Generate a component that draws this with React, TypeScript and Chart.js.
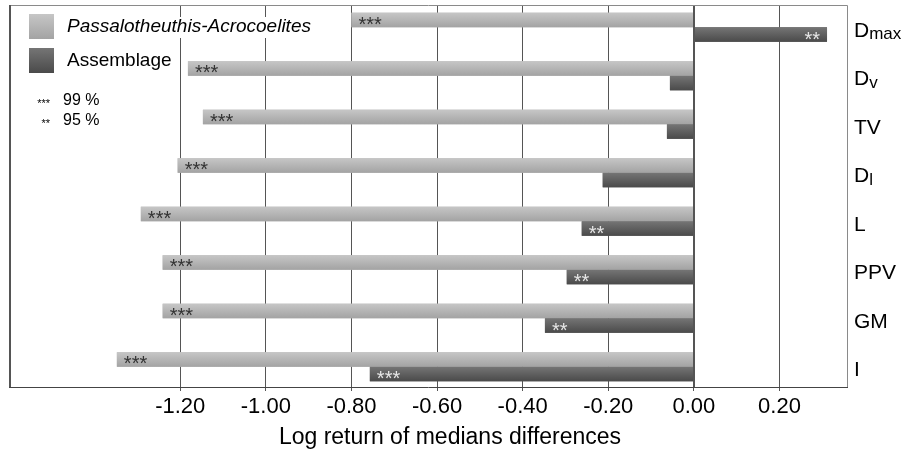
import React, { useEffect, useRef } from 'react';
import { Chart, registerables } from 'chart.js';

Chart.register(...registerables);

const categories = ['Dmax', 'Dv', 'TV', 'Dl', 'L', 'PPV', 'GM', 'I'];
const labelMain = ['D', 'D', 'TV', 'D', 'L', 'PPV', 'GM', 'I'];
const labelSub = ['max', 'v', '', 'l', '', '', '', ''];
const seriesNames = ['Passalotheuthis-Acrocoelites', 'Assemblage'];
const passaloValues = [-0.8, -1.182, -1.147, -1.206, -1.292, -1.241, -1.241, -1.348];
const assemblageValues = [0.311, -0.056, -0.063, -0.213, -0.262, -0.297, -0.348, -0.757];
const passaloStars = ['***', '***', '***', '***', '***', '***', '***', '***'];
const assemblageStars = ['**', '', '', '', '**', '**', '**', '***'];
const tickValues = [-1.2, -1.0, -0.8, -0.6, -0.4, -0.2, 0, 0.2];
const significanceStars = ['***', '**'];
const significanceLabels = ['99 %', '95 %'];
const axisTitle = 'Log return of medians differences';

const FONT = "'Liberation Sans', Arial, sans-serif";
const GRADS = [
  ['#c6c6c6', '#a3a3a3'],
  ['#757575', '#4a4a4a'],
];
const FRAME_TOP = 5;
const FRAME_BOTTOM = 387;

const customPlugin = {
  id: 'customDraw',
  afterDatasetsDraw(chart: any) {
    const ctx = chart.ctx;
    const xScale = chart.scales.x;
    ctx.save();
    chart.data.datasets.forEach((ds: any, di: number) => {
      const meta = chart.getDatasetMeta(di);
      meta.data.forEach((bar: any, i: number) => {
        const { x, y, base, height } = bar.getProps(['x', 'y', 'base', 'height'], true);
        const top = y - height / 2;
        const g = ctx.createLinearGradient(0, top, 0, top + height);
        g.addColorStop(0, GRADS[di][0]);
        g.addColorStop(1, GRADS[di][1]);
        ctx.fillStyle = g;
        const left = Math.min(x, base);
        const w = Math.abs(x - base);
        ctx.fillRect(left, top, w, height);
        const stars = di === 0 ? passaloStars[i] : assemblageStars[i];
        if (stars) {
          ctx.font = `20px ${FONT}`;
          ctx.fillStyle = di === 0 ? '#333333' : '#e6e6e6';
          ctx.textBaseline = 'alphabetic';
          if (x < base) {
            ctx.textAlign = 'left';
            ctx.fillText(stars, x + 7, y + 11);
          } else {
            ctx.textAlign = 'right';
            ctx.fillText(stars, x - 7, y + 11);
          }
        }
      });
    });
    const zx = Math.round(xScale.getPixelForValue(0));
    ctx.strokeStyle = '#555555';
    ctx.lineWidth = 2;
    ctx.beginPath();
    ctx.moveTo(zx, FRAME_TOP);
    ctx.lineTo(zx, FRAME_BOTTOM);
    ctx.stroke();
    ctx.restore();
  },
  afterDraw(chart: any) {
    const ctx = chart.ctx;
    const area = chart.chartArea;
    const yScale = chart.scales.y;
    ctx.save();
    ctx.fillStyle = '#ffffff';
    ctx.fillRect(area.left, 0, area.right - area.left + 1, FRAME_TOP);
    // frame
    ctx.strokeStyle = '#8a8a8a';
    ctx.lineWidth = 1;
    ctx.beginPath();
    ctx.moveTo(area.left + 0.5, FRAME_BOTTOM);
    ctx.lineTo(area.left + 0.5, FRAME_TOP + 0.5);
    ctx.lineTo(area.right - 0.5, FRAME_TOP + 0.5);
    ctx.lineTo(area.right - 0.5, FRAME_BOTTOM);
    ctx.stroke();
    ctx.strokeStyle = '#555555';
    ctx.lineWidth = 2;
    ctx.beginPath();
    ctx.moveTo(area.left + 1, FRAME_TOP);
    ctx.lineTo(area.left + 1, FRAME_BOTTOM);
    ctx.stroke();
    ctx.strokeStyle = '#444444';
    ctx.lineWidth = 1;
    ctx.beginPath();
    ctx.moveTo(area.left, FRAME_BOTTOM + 0.5);
    ctx.lineTo(area.right, FRAME_BOTTOM + 0.5);
    ctx.stroke();

    // axis title
    ctx.fillStyle = '#000';
    ctx.font = `23px ${FONT}`;
    ctx.textAlign = 'center';
    ctx.textBaseline = 'middle';
    ctx.fillText(axisTitle, 450, 438);

    // category labels at right
    categories.forEach((c, i) => {
      const cy = yScale.getPixelForValue(i) + 3.5;
      const x0 = area.right + 6;
      ctx.fillStyle = '#000';
      ctx.textBaseline = 'middle';
      ctx.textAlign = 'left';
      ctx.font = `21px ${FONT}`;
      ctx.fillText(labelMain[i], x0, cy);
      if (labelSub[i]) {
        const w = ctx.measureText(labelMain[i]).width;
        ctx.font = `17px ${FONT}`;
        ctx.fillText(labelSub[i], x0 + w, cy + 4);
      }
    });

    // legend
    const swY = [14, 48];
    seriesNames.forEach((name, i) => {
      ctx.font = `${i === 0 ? 'italic ' : ''}19px ${FONT}`;
      const tw = ctx.measureText(name).width;
      ctx.fillStyle = '#ffffff';
      ctx.fillRect(64, swY[i] + 3, tw + 6, 21);
      const g = ctx.createLinearGradient(0, swY[i], 0, swY[i] + 25);
      g.addColorStop(0, GRADS[i][0]);
      g.addColorStop(1, GRADS[i][1]);
      ctx.fillStyle = g;
      ctx.fillRect(29, swY[i], 25, 25);
      ctx.fillStyle = '#000';
      ctx.textBaseline = 'middle';
      ctx.textAlign = 'left';
      ctx.fillText(name, 67, swY[i] + 13);
    });
    const sigY = [101, 121];
    significanceLabels.forEach((lab, i) => {
      ctx.fillStyle = '#000';
      ctx.textAlign = 'right';
      ctx.textBaseline = 'alphabetic';
      ctx.font = `11px ${FONT}`;
      ctx.fillText(significanceStars[i], 50, sigY[i] + 6);
      ctx.textAlign = 'left';
      ctx.textBaseline = 'middle';
      ctx.font = `16px ${FONT}`;
      ctx.fillText(lab, 63, sigY[i]);
    });
    ctx.restore();
  },
};

export default function App() {
  const ref = useRef<HTMLCanvasElement | null>(null);
  useEffect(() => {
    if (!ref.current) return;
    const chart = new Chart(ref.current, {
      type: 'bar',
      data: {
        labels: categories,
        datasets: [
          { label: seriesNames[0], data: passaloValues, backgroundColor: '#b4b4b4', borderWidth: 0 },
          { label: seriesNames[1], data: assemblageValues, backgroundColor: '#5f5f5f', borderWidth: 0 },
        ],
      },
      options: {
        indexAxis: 'y',
        responsive: false,
        animation: false,
        devicePixelRatio: 1,
        layout: { padding: { left: 9, top: 3, right: 62, bottom: 0 } },
        datasets: { bar: { categoryPercentage: 0.6, barPercentage: 1 } },
        plugins: { legend: { display: false }, tooltip: { enabled: false } },
        scales: {
          x: {
            type: 'linear',
            min: -1.6,
            max: 0.36,
            afterBuildTicks: (scale: any) => {
              scale.ticks = tickValues.map((v) => ({ value: v }));
            },
            afterFit: (scale: any) => {
              scale.height = 67;
            },
            ticks: {
              callback: (v: any) => Number(v).toFixed(2),
              font: { size: 22, family: FONT },
              color: '#000',
              padding: 3,
              maxRotation: 0,
              autoSkip: false,
            },
            grid: { color: '#555555', lineWidth: 1, drawTicks: false },
            border: { display: false },
            title: { display: false },
          },
          y: { display: false },
        },
      },
      plugins: [customPlugin],
    } as any);
    return () => chart.destroy();
  }, []);
  return (
    <div style={{ position: 'absolute', left: 0, top: 0, width: 910, height: 458 }}>
      <canvas ref={ref} width={910} height={458} />
    </div>
  );
}
